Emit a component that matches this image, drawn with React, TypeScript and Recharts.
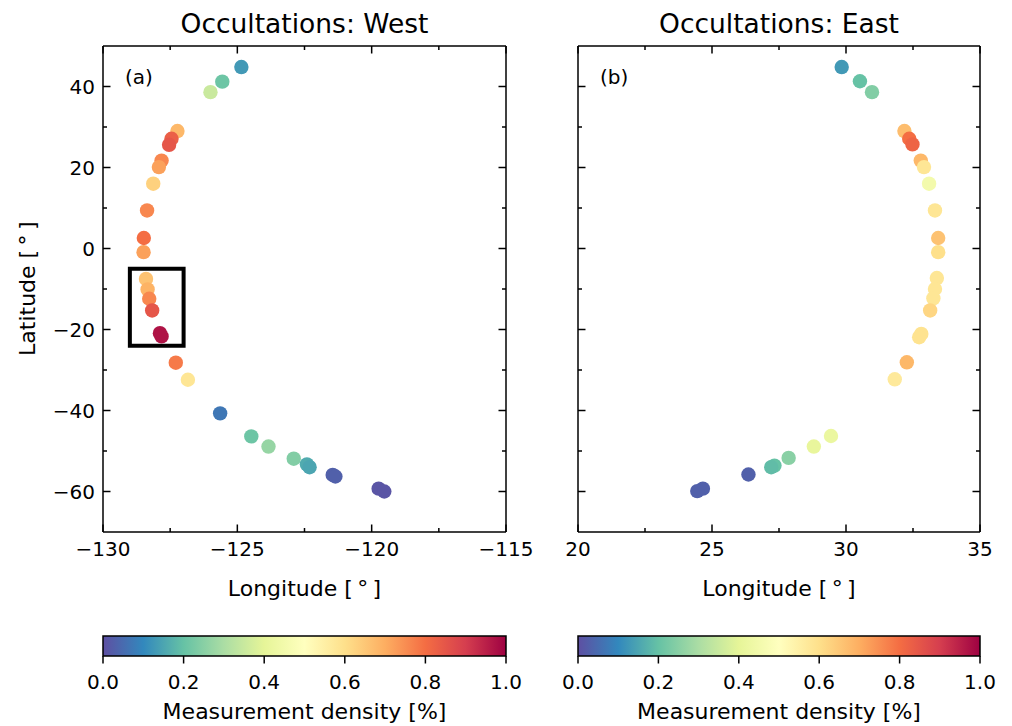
import React from 'react';
import { ScatterChart, Scatter, ComposedChart, XAxis, YAxis, ReferenceArea } from 'recharts';

// panel (a): west limb occultations
const westLon = [
  -124.85, -125.56, -126.0, -127.23, -127.45, -127.54, -127.82, -127.92, -128.13, -128.36,
  -128.48, -128.49, -128.4, -128.34, -128.28, -128.17, -127.88, -127.82, -127.29, -126.84,
  -125.64, -124.48, -123.84, -122.9, -122.41, -122.31, -121.45, -121.35, -119.74, -119.53,
];
const westLat = [
  44.8, 41.2, 38.6, 29.0, 27.1, 25.6, 21.7, 20.1, 16.0, 9.4,
  2.6, -0.9, -7.5, -10.1, -12.4, -15.3, -20.9, -21.7, -28.2, -32.4,
  -40.7, -46.4, -48.9, -51.9, -53.3, -54.0, -55.9, -56.3, -59.3, -60.0,
];
const westDensity = [
  0.13, 0.21, 0.35, 0.68, 0.83, 0.85, 0.76, 0.72, 0.63, 0.76,
  0.8, 0.72, 0.66, 0.69, 0.76, 0.85, 0.97, 0.97, 0.78, 0.58,
  0.07, 0.21, 0.27, 0.24, 0.16, 0.15, 0.03, 0.03, 0.01, 0.01,
];

// panel (b): east limb occultations
const eastLon = [
  29.84, 30.52, 30.97, 32.18, 32.36, 32.48, 32.79, 32.91, 33.1, 33.32,
  33.44, 33.44, 33.39, 33.32, 33.26, 33.14, 32.81, 32.73, 32.27, 31.82,
  29.44, 28.8, 27.86, 27.33, 27.21, 26.36, 24.66, 24.45,
];
const eastLat = [
  44.8, 41.3, 38.6, 29.0, 27.1, 25.7, 21.7, 20.1, 16.0, 9.4,
  2.6, -0.9, -7.3, -10.0, -12.3, -15.3, -21.1, -21.9, -28.1, -32.3,
  -46.3, -48.9, -51.7, -53.6, -54.0, -55.8, -59.3, -59.9,
];
const eastDensity = [
  0.13, 0.2, 0.24, 0.67, 0.8, 0.82, 0.68, 0.58, 0.45, 0.58,
  0.66, 0.6, 0.58, 0.58, 0.58, 0.62, 0.59, 0.59, 0.68, 0.57,
  0.42, 0.41, 0.25, 0.2, 0.19, 0.03, 0.03, 0.03,
];

const westTicks = [-130, -127.5, -125, -122.5, -120, -117.5, -115];
const westMajor = [-130, -125, -120, -115];
const eastTicks = [20, 22.5, 25, 27.5, 30, 32.5, 35];
const eastMajor = [20, 25, 30, 35];
const latTicks = [-60, -50, -40, -30, -20, -10, 0, 10, 20, 30, 40];
const latMajor = [-60, -40, -20, 0, 20, 40];
const cbTicks = [0, 0.2, 0.4, 0.6, 0.8, 1];
// highlighted box in panel (a): lon1, lon2, lat1, lat2
const westBox = [-129, -127, -24, -5];

const SPECTRAL_R = ['#5e4fa2', '#3288bd', '#66c2a5', '#abdda4', '#e6f598', '#ffffbf',
  '#fee08b', '#fdae61', '#f46d43', '#d53e4f', '#9e0142'];

const FONT = 'DejaVu Sans';

function hexRgb(h: string) {
  return [1, 3, 5].map((i) => parseInt(h.slice(i, i + 2), 16));
}

function spectralR(t: number) {
  const s = Math.min(Math.max(t, 0), 1) * 10;
  const i = Math.min(Math.floor(s), 9);
  const f = s - i;
  const a = hexRgb(SPECTRAL_R[i]);
  const b = hexRgb(SPECTRAL_R[i + 1]);
  const c = a.map((v, k) => Math.round(v + (b[k] - v) * f));
  return `rgb(${c[0]},${c[1]},${c[2]})`;
}

const fmt = (v: number) => (v < 0 ? '\u2212' + Math.abs(v) : String(v));
const fmtCb = (v: number) => v.toFixed(1);

type Side = 'bottom' | 'top' | 'left' | 'right';

// inward ticks like matplotlib's direction='in', labels only on majors
function axisTick(side: Side, major: number[], label?: (v: number) => string, outward = false) {
  return (props: any) => {
    const { x, y, payload } = props;
    const v = payload.value;
    const isMajor = major.some((m) => Math.abs(m - v) < 1e-6);
    const len = (isMajor ? 7.5 : 4) * (outward ? -1 : 1);
    let x2 = x;
    let y2 = y;
    if (side === 'bottom') y2 = y - len;
    if (side === 'top') y2 = y + len;
    if (side === 'left') x2 = x + len;
    if (side === 'right') x2 = x - len;
    let text = null;
    if (label && isMajor) {
      if (side === 'bottom') {
        text = (
          <text x={x} y={y + (outward ? 33 : 23.5)} textAnchor="middle" fontSize={20} fontFamily={FONT} fill="#000">
            {label(v)}
          </text>
        );
      } else {
        text = (
          <text x={x - 8} y={y + 7.3} textAnchor="end" fontSize={20} fontFamily={FONT} fill="#000">
            {label(v)}
          </text>
        );
      }
    }
    return (
      <g>
        <line x1={x} y1={y} x2={x2} y2={y2} stroke="#000" strokeWidth={1.5} />
        {text}
      </g>
    );
  };
}

const dot = (props: any) => (
  <circle cx={props.cx} cy={props.cy} r={7.2} fill={spectralR(props.payload.density)} />
);
const noDot = () => <g />;

const axisLine = { stroke: '#000', strokeWidth: 1.5 };

function Panel({ lon, lat, density, xTicks, xMajor, showY, box, width, margin }: any) {
  const data = lon.map((x: number, i: number) => ({ lon: x, lat: lat[i], density: density[i] }));
  const xDomain = [xTicks[0], xTicks[xTicks.length - 1]];
  return (
    <ScatterChart width={width} height={600} margin={margin} style={{ overflow: 'visible' }}>
      <XAxis
        type="number" dataKey="lon" domain={xDomain} allowDataOverflow ticks={xTicks} interval={0}
        height={68} tickSize={0} tickMargin={0} tickLine={false} axisLine={axisLine}
        tick={axisTick('bottom', xMajor, fmt)}
      />
      <XAxis
        xAxisId="top" orientation="top" type="number" dataKey="lon" domain={xDomain} allowDataOverflow
        ticks={xTicks} interval={0} height={1} tickSize={0} tickMargin={0} tickLine={false}
        axisLine={axisLine} tick={axisTick('top', xMajor)}
      />
      <YAxis
        type="number" dataKey="lat" domain={[-70, 50]} allowDataOverflow ticks={latTicks} interval={0}
        width={showY ? 103 : 1} tickSize={0} tickMargin={0} tickLine={false} axisLine={axisLine}
        tick={axisTick('left', latMajor, showY ? fmt : undefined)}
      />
      <YAxis
        yAxisId="right" orientation="right" type="number" dataKey="lat" domain={[-70, 50]} allowDataOverflow
        ticks={latTicks} interval={0} width={1} tickSize={0} tickMargin={0} tickLine={false}
        axisLine={axisLine} tick={axisTick('right', latMajor)}
      />
      {/* invisible copy so the top/right frame axes get a scale */}
      <Scatter data={data} xAxisId="top" yAxisId="right" shape={noDot} isAnimationActive={false} />
      <Scatter data={data} shape={dot} isAnimationActive={false} />
      {box && (
        <ReferenceArea
          x1={box[0]} x2={box[1]} y1={box[2]} y2={box[3]}
          fill="none" fillOpacity={0} stroke="#000" strokeWidth={4} ifOverflow="visible"
        />
      )}
    </ScatterChart>
  );
}

function Colorbar({ id, width, margin }: any) {
  const data = cbTicks.map((v) => ({ v, y: 0.5 }));
  return (
    <ComposedChart width={width} height={106} margin={margin} data={data} style={{ overflow: 'visible' }}>
      <defs>
        <linearGradient id={id} x1="0" y1="0" x2="1" y2="0">
          {SPECTRAL_R.map((c, i) => (
            <stop key={i} offset={`${i * 10}%`} stopColor={c} />
          ))}
        </linearGradient>
      </defs>
      <XAxis
        type="number" dataKey="v" domain={[0, 1]} allowDataOverflow ticks={cbTicks} interval={0}
        height={70} tickSize={0} tickMargin={0} tickLine={false} axisLine={false}
        tick={axisTick('bottom', cbTicks, fmtCb, true)}
      />
      <YAxis hide type="number" dataKey="y" domain={[0, 1]} allowDataOverflow />
      <Scatter dataKey="y" shape={noDot} isAnimationActive={false} />
      <ReferenceArea
        x1={0} x2={1} y1={0} y2={1} fill={`url(#${id})`} fillOpacity={1}
        stroke="#000" strokeWidth={1.5} ifOverflow="visible"
      />
    </ComposedChart>
  );
}

const textStyle = { fontFamily: FONT, fill: '#000' };

export default function App() {
  return (
    <div style={{ position: 'absolute', left: 0, top: 0, width: 1012, height: 726, background: '#fff' }}>
      <div style={{ position: 'absolute', left: 0, top: 0 }}>
        <Panel
          lon={westLon} lat={westLat} density={westDensity} xTicks={westTicks} xMajor={westMajor}
          showY box={westBox} width={545} margin={{ top: 45, right: 38, bottom: 0, left: 0 }}
        />
      </div>
      <div style={{ position: 'absolute', left: 545, top: 0 }}>
        <Panel
          lon={eastLon} lat={eastLat} density={eastDensity} xTicks={eastTicks} xMajor={eastMajor}
          showY={false} width={460} margin={{ top: 45, right: 24, bottom: 0, left: 32 }}
        />
      </div>
      <div style={{ position: 'absolute', left: 0, top: 620 }}>
        <Colorbar id="cbWest" width={545} margin={{ top: 16, right: 39, bottom: 0, left: 103 }} />
      </div>
      <div style={{ position: 'absolute', left: 545, top: 620 }}>
        <Colorbar id="cbEast" width={460} margin={{ top: 16, right: 25, bottom: 0, left: 33 }} />
      </div>
      <svg width={1012} height={726} style={{ position: 'absolute', left: 0, top: 0, pointerEvents: 'none' }}>
        <text x={304.5} y={33} textAnchor="middle" fontSize={26.5} {...textStyle}>Occultations: West</text>
        <text x={779} y={33} textAnchor="middle" fontSize={26.5} {...textStyle}>Occultations: East</text>
        <text x={125} y={84} fontSize={20} {...textStyle}>(a)</text>
        <text x={600} y={84} fontSize={20} {...textStyle}>(b)</text>
        <text x={304.5} y={596} textAnchor="middle" fontSize={22} {...textStyle}>Longitude [{'\u2009'}°{'\u2009'}]</text>
        <text x={779} y={596} textAnchor="middle" fontSize={22} {...textStyle}>Longitude [{'\u2009'}°{'\u2009'}]</text>
        <text x={35} y={288.7} textAnchor="middle" fontSize={22} transform="rotate(-90 35 288.7)" {...textStyle}>
          Latitude [{'\u2009'}°{'\u2009'}]
        </text>
        <text x={304.5} y={719} textAnchor="middle" fontSize={22} {...textStyle}>Measurement density [%]</text>
        <text x={779} y={719} textAnchor="middle" fontSize={22} {...textStyle}>Measurement density [%]</text>
      </svg>
    </div>
  );
}
